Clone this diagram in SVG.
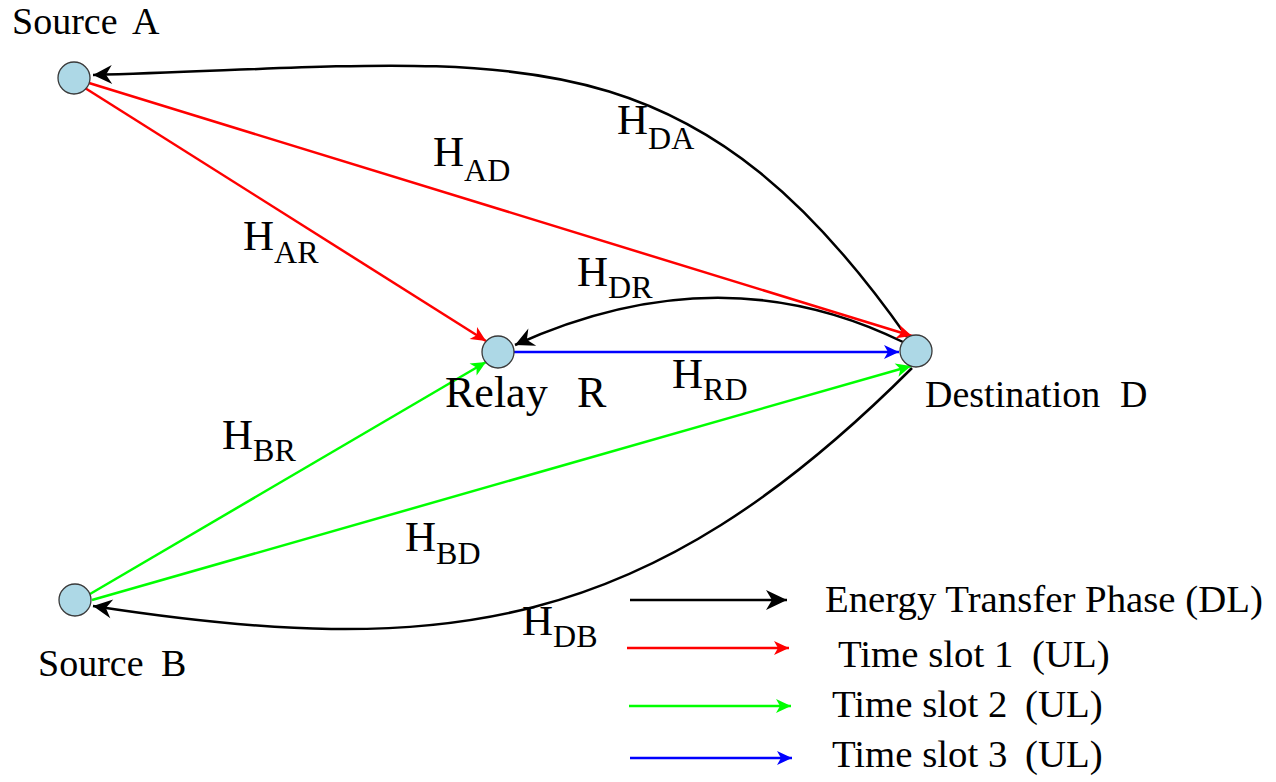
<svg xmlns="http://www.w3.org/2000/svg" width="1276" height="782" viewBox="0 0 1276 782">
<style>
text{font-family:"Liberation Serif","Times New Roman",serif;fill:#000}
.nl{font-size:38px}
.rl{font-size:44px}
.hl{font-size:43px}
.sub{font-size:32px}
.lg{font-size:38.8px}
.node{fill:#add8e6;stroke:#3a3a3a;stroke-width:1.3}
.k{stroke:#000;stroke-width:2.5;fill:none}
.r{stroke:#ff0000;stroke-width:2.5;fill:none}
.g{stroke:#00ff00;stroke-width:2.5;fill:none}
.b{stroke:#0000ff;stroke-width:2.5;fill:none}
</style>
<defs>
<marker id="mk" viewBox="-21 -11 22 22" refX="0" refY="0" markerWidth="22" markerHeight="22" markerUnits="userSpaceOnUse" orient="auto"><path d="M0,0 L-19,-9.5 L-13,0 L-19,9.5 Z" fill="#000"/></marker>
<marker id="mkL" viewBox="-22 -11 23 22" refX="0" refY="0" markerWidth="23" markerHeight="22" markerUnits="userSpaceOnUse" orient="auto"><path d="M0,0 L-21,-10 L-15,0 L-21,10 Z" fill="#000"/></marker>
<marker id="mr" viewBox="-16 -8 17 16" refX="0" refY="0" markerWidth="17" markerHeight="16" markerUnits="userSpaceOnUse" orient="auto"><path d="M0,0 L-15,-7 L-11,0 L-15,7 Z" fill="#ff0000"/></marker>
<marker id="mg" viewBox="-16 -8 17 16" refX="0" refY="0" markerWidth="17" markerHeight="16" markerUnits="userSpaceOnUse" orient="auto"><path d="M0,0 L-15,-7 L-11,0 L-15,7 Z" fill="#00ff00"/></marker>
<marker id="mb" viewBox="-16 -8 17 16" refX="0" refY="0" markerWidth="17" markerHeight="16" markerUnits="userSpaceOnUse" orient="auto"><path d="M0,0 L-15,-7 L-11,0 L-15,7 Z" fill="#0000ff"/></marker>
</defs>
<rect width="1276" height="782" fill="#fff"/>
<g id="connectors">
<path id="e-DA" class="k" d="M907,337 C680,14 500,64 93,75" marker-end="url(#mk)"/>
<path id="e-DB" class="k" d="M912,368 C646,634 443,660 93,606" marker-end="url(#mk)"/>
<path id="e-DR" class="k" d="M903,342 Q720,252 515,345" marker-end="url(#mk)"/>
<path id="e-AD" class="r" d="M89,83 L912,336" marker-end="url(#mr)"/>
<path id="e-AR" class="r" d="M85,88 L486,341" marker-end="url(#mr)"/>
<path id="e-BR" class="g" d="M90,594 L486,362" marker-end="url(#mg)"/>
<path id="e-BD" class="g" d="M92,600 L911,366" marker-end="url(#mg)"/>
<path id="e-RD" class="b" d="M514,352 L899,352" marker-end="url(#mb)"/>
</g>
<g id="edge-labels">
<text class="hl" x="617" y="134">H<tspan class="sub" dy="15">DA</tspan></text>
<text class="hl" x="433" y="166">H<tspan class="sub" dy="15">AD</tspan></text>
<text class="hl" x="243" y="250">H<tspan class="sub" dy="13">AR</tspan></text>
<text class="hl" x="577" y="286">H<tspan class="sub" dy="12">DR</tspan></text>
<text class="hl" x="672" y="388">H<tspan class="sub" dy="12">RD</tspan></text>
<text class="hl" x="222" y="449">H<tspan class="sub" dy="12">BR</tspan></text>
<text class="hl" x="405" y="551">H<tspan class="sub" dy="13">BD</tspan></text>
<text class="hl" x="522" y="635">H<tspan class="sub" dy="12">DB</tspan></text>
</g>
<g id="node-A">
<circle class="node" cx="74" cy="78" r="16"/>
<text class="nl" x="12" y="34">Source <tspan x="132">A</tspan></text>
</g>
<g id="node-R">
<circle class="node" cx="498" cy="352" r="16"/>
<text class="rl" x="445" y="407">Relay <tspan x="577">R</tspan></text>
</g>
<g id="node-D">
<circle class="node" cx="916" cy="351" r="16"/>
<text class="nl" x="925" y="407">Destination <tspan x="1120">D</tspan></text>
</g>
<g id="node-B">
<circle class="node" cx="75" cy="600" r="16"/>
<text class="nl" x="38" y="676">Source <tspan x="161">B</tspan></text>
</g>
<g id="legend">
<line class="k" x1="630" y1="600" x2="787" y2="600" marker-end="url(#mkL)"/>
<line class="r" x1="627" y1="648" x2="789" y2="648" marker-end="url(#mr)"/>
<line class="g" x1="629" y1="706" x2="791" y2="706" marker-end="url(#mg)"/>
<line class="b" x1="630" y1="758" x2="792" y2="758" marker-end="url(#mb)"/>
<text class="lg" x="825" y="612">Energy Transfer Phase (DL)</text>
<text class="lg" x="838" y="667">Time slot 1 <tspan x="1032">(UL)</tspan></text>
<text class="lg" x="832" y="717">Time slot 2 <tspan x="1025">(UL)</tspan></text>
<text class="lg" x="832" y="767">Time slot 3 <tspan x="1025">(UL)</tspan></text>
</g>
</svg>
